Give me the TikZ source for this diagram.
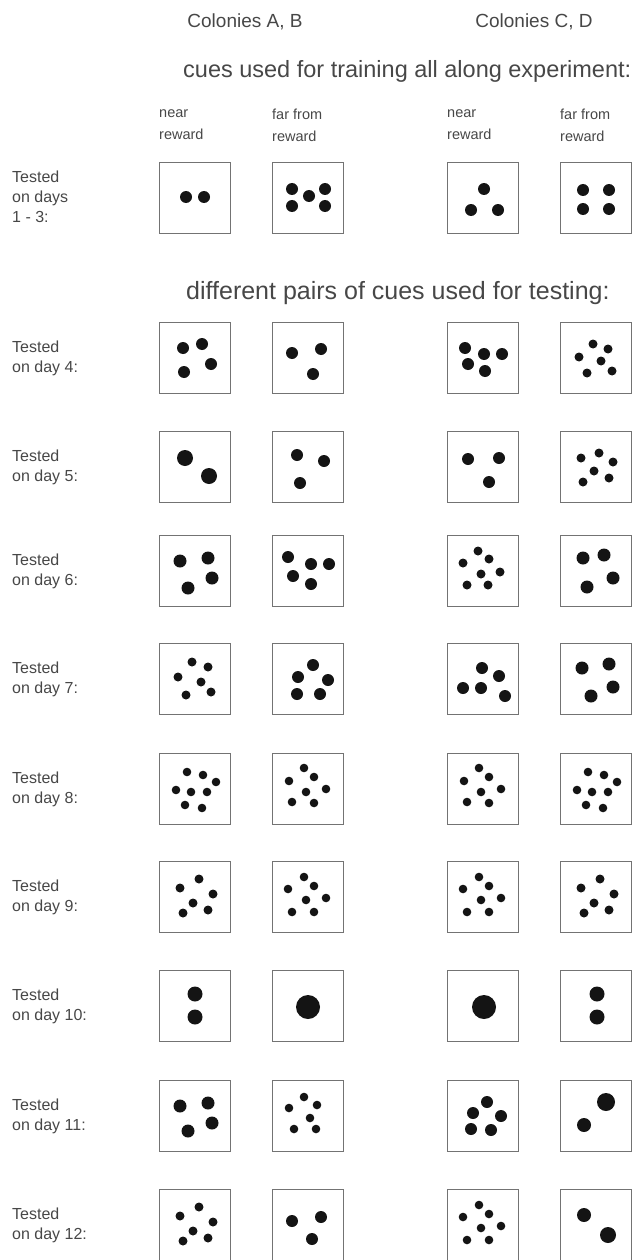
\documentclass[tikz,border=0pt]{standalone}
\usepackage{fontspec}
\setmainfont{Liberation Sans}
\begin{document}
\begin{tikzpicture}[
  x=1pt, y=-1pt,
  every node/.style={text=black!72, inner sep=0pt},
  cue/.style={draw=black!55, line width=1.3pt, minimum size=71pt},
  dot/.style={fill=black!92},
  head/.style={font=\fontsize{19}{22}\selectfont},
  note/.style={font=\fontsize{23.5}{28}\selectfont, anchor=west},
  kind/.style={font=\fontsize{14.5}{22}\selectfont, anchor=west, align=left},
  day/.style={font=\fontsize{16}{20}\selectfont, anchor=west, align=left}
]
\useasboundingbox (0,0) rectangle (638,1260);

\node[head] (colAB) at (245,22) {Colonies A, B};
\node[head] (colCD) at (534,22) {Colonies C, D};
\node[note] (training) at (183,71) {cues used for training all along experiment:};
\node[kind] (nearAB) at (159,125) {near\\reward};
\node[kind] (farAB) at (272,125) {far from\\reward};
\node[kind] (nearCD) at (447,125) {near\\reward};
\node[kind] (farCD) at (560,125) {far from\\reward};
\node[note, font=\fontsize{25}{29}\selectfont] (testing) at (186,293) {different pairs of cues used for testing:};

\node[day] (day0) at (12,197) {Tested\\on days\\1 - 3:};
\node[day] (day4) at (12,358) {Tested\\on day 4:};
\node[day] (day5) at (12,467) {Tested\\on day 5:};
\node[day] (day6) at (12,571) {Tested\\on day 6:};
\node[day] (day7) at (12,679) {Tested\\on day 7:};
\node[day] (day8) at (12,789) {Tested\\on day 8:};
\node[day] (day9) at (12,897) {Tested\\on day 9:};
\node[day] (day10) at (12,1006) {Tested\\on day 10:};
\node[day] (day11) at (12,1116) {Tested\\on day 11:};
\node[day] (day12) at (12,1225) {Tested\\on day 12:};

\foreach \r/\y in {0/198, 4/358, 5/467, 6/571, 7/679, 8/789, 9/897, 10/1006, 11/1116, 12/1225} {
  \node[cue] (nearAB\r) at (195,\y) {};
  \node[cue] (farAB\r) at (308,\y) {};
  \node[cue] (nearCD\r) at (483,\y) {};
  \node[cue] (farCD\r) at (596,\y) {};
}

\foreach \p in {(-9,-1),(9,-1)} \fill[dot] ([shift={\p}]nearAB0.center) circle[radius=6];
\foreach \p in {(-16,-9),(17,-9),(1,-2),(-16,8),(17,8)} \fill[dot] ([shift={\p}]farAB0.center) circle[radius=6];
\foreach \p in {(1,-9),(-12,12),(15,12)} \fill[dot] ([shift={\p}]nearCD0.center) circle[radius=6];
\foreach \p in {(-13,-8),(13,-8),(-13,11),(13,11)} \fill[dot] ([shift={\p}]farCD0.center) circle[radius=6];

\foreach \p in {(-12,-10),(7,-14),(-11,14),(16,6)} \fill[dot] ([shift={\p}]nearAB4.center) circle[radius=6];
\foreach \p in {(-16,-5),(13,-9),(5,16)} \fill[dot] ([shift={\p}]farAB4.center) circle[radius=6];
\foreach \p in {(-18,-10),(1,-4),(19,-4),(-15,6),(2,13)} \fill[dot] ([shift={\p}]nearCD4.center) circle[radius=6];
\foreach \p in {(-3,-14),(12,-9),(-17,-1),(5,3),(-9,15),(16,13)} \fill[dot] ([shift={\p}]farCD4.center) circle[radius=4.5];

\foreach \p in {(-10,-9),(14,9)} \fill[dot] ([shift={\p}]nearAB5.center) circle[radius=8];
\foreach \p in {(-11,-12),(16,-6),(-8,16)} \fill[dot] ([shift={\p}]farAB5.center) circle[radius=6];
\foreach \p in {(-15,-8),(16,-9),(6,15)} \fill[dot] ([shift={\p}]nearCD5.center) circle[radius=6];
\foreach \p in {(3,-14),(-15,-9),(17,-5),(-2,4),(-13,15),(13,11)} \fill[dot] ([shift={\p}]farCD5.center) circle[radius=4.5];

\foreach \p in {(-15,-10),(13,-13),(17,7),(-7,17)} \fill[dot] ([shift={\p}]nearAB6.center) circle[radius=6.5];
\foreach \p in {(-20,-14),(3,-7),(21,-7),(-15,5),(3,13)} \fill[dot] ([shift={\p}]farAB6.center) circle[radius=6];
\foreach \p in {(-5,-20),(6,-12),(-20,-8),(-2,3),(17,1),(-16,14),(5,14)} \fill[dot] ([shift={\p}]nearCD6.center) circle[radius=4.5];
\foreach \p in {(-13,-13),(8,-16),(17,7),(-9,16)} \fill[dot] ([shift={\p}]farCD6.center) circle[radius=6.5];

\foreach \p in {(-3,-17),(13,-12),(-17,-2),(6,3),(-9,16),(16,13)} \fill[dot] ([shift={\p}]nearAB7.center) circle[radius=4.5];
\foreach \p in {(5,-14),(-10,-2),(20,1),(-11,15),(12,15)} \fill[dot] ([shift={\p}]farAB7.center) circle[radius=6];
\foreach \p in {(-1,-11),(16,-3),(-20,9),(-2,9),(22,17)} \fill[dot] ([shift={\p}]nearCD7.center) circle[radius=6];
\foreach \p in {(-14,-11),(13,-15),(17,8),(-5,17)} \fill[dot] ([shift={\p}]farCD7.center) circle[radius=6.5];

\foreach \p in {(-8,-17),(8,-14),(21,-7),(-19,1),(-4,3),(12,3),(-10,16),(7,19)} \fill[dot] ([shift={\p}]nearAB8.center) circle[radius=4.3];
\foreach \p in {(-4,-21),(6,-12),(-19,-8),(-2,3),(18,0),(-16,13),(6,14)} \fill[dot] ([shift={\p}]farAB8.center) circle[radius=4.3];
\foreach \p in {(-4,-21),(6,-12),(-19,-8),(-2,3),(18,0),(-16,13),(6,14)} \fill[dot] ([shift={\p}]nearCD8.center) circle[radius=4.3];
\foreach \p in {(-8,-17),(8,-14),(21,-7),(-19,1),(-4,3),(12,3),(-10,16),(7,19)} \fill[dot] ([shift={\p}]farCD8.center) circle[radius=4.3];

\foreach \p in {(-15,-9),(4,-18),(18,-3),(-2,6),(-12,16),(13,13)} \fill[dot] ([shift={\p}]nearAB9.center) circle[radius=4.5];
\foreach \p in {(-4,-20),(6,-11),(-20,-8),(-2,3),(18,1),(-16,15),(6,15)} \fill[dot] ([shift={\p}]farAB9.center) circle[radius=4.3];
\foreach \p in {(-4,-20),(6,-11),(-20,-8),(-2,3),(18,1),(-16,15),(6,15)} \fill[dot] ([shift={\p}]nearCD9.center) circle[radius=4.3];
\foreach \p in {(-15,-9),(4,-18),(18,-3),(-2,6),(-12,16),(13,13)} \fill[dot] ([shift={\p}]farCD9.center) circle[radius=4.5];

\foreach \p in {(0,-12),(0,11)} \fill[dot] ([shift={\p}]nearAB10.center) circle[radius=7.5];
\fill[dot] ([shift={(0,1)}]farAB10.center) circle[radius=12];
\fill[dot] ([shift={(1,1)}]nearCD10.center) circle[radius=12];
\foreach \p in {(1,-12),(1,11)} \fill[dot] ([shift={\p}]farCD10.center) circle[radius=7.5];

\foreach \p in {(-15,-10),(13,-13),(17,7),(-7,15)} \fill[dot] ([shift={\p}]nearAB11.center) circle[radius=6.5];
\foreach \p in {(-4,-19),(9,-11),(-19,-8),(2,2),(-14,13),(8,13)} \fill[dot] ([shift={\p}]farAB11.center) circle[radius=4.3];
\foreach \p in {(4,-14),(-10,-3),(18,0),(-12,13),(8,14)} \fill[dot] ([shift={\p}]nearCD11.center) circle[radius=6];
\fill[dot] ([shift={(10,-14)}]farCD11.center) circle[radius=9];
\fill[dot] ([shift={(-12,9)}]farCD11.center) circle[radius=7];

\foreach \p in {(-15,-9),(4,-18),(18,-3),(-2,6),(-12,16),(13,13)} \fill[dot] ([shift={\p}]nearAB12.center) circle[radius=4.5];
\foreach \p in {(-16,-4),(13,-8),(4,14)} \fill[dot] ([shift={\p}]farAB12.center) circle[radius=6];
\foreach \p in {(-4,-20),(6,-11),(-20,-8),(-2,3),(18,1),(-16,15),(6,15)} \fill[dot] ([shift={\p}]nearCD12.center) circle[radius=4.3];
\fill[dot] ([shift={(-12,-10)}]farCD12.center) circle[radius=7];
\fill[dot] ([shift={(12,10)}]farCD12.center) circle[radius=8];
\end{tikzpicture}
\end{document}
